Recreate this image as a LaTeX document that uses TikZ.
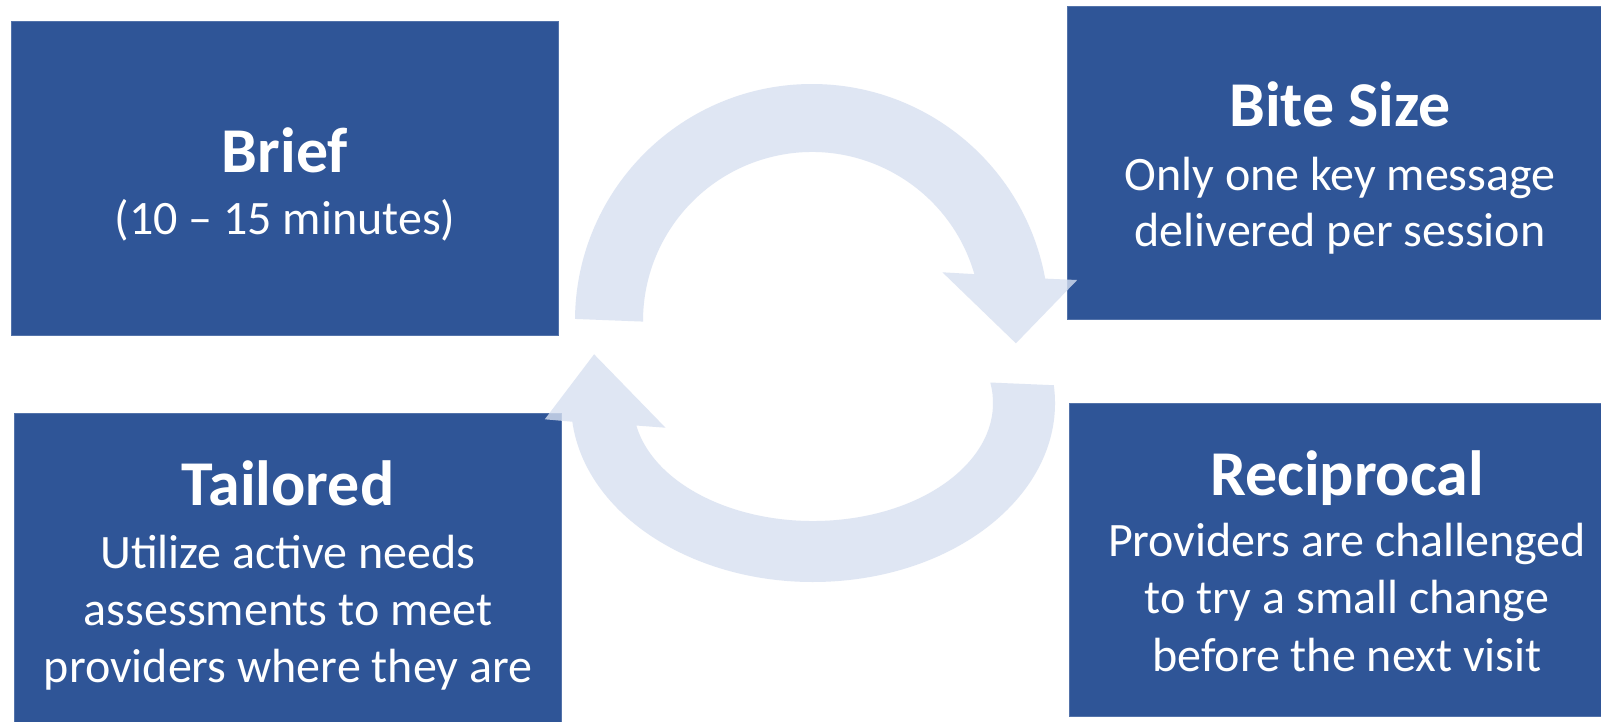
\documentclass[tikz,border=0pt]{standalone}
\usepackage{fontspec}
\setmainfont{Carlito}
\definecolor{boxblue}{HTML}{2F5597}
\definecolor{boxedge}{HTML}{5373AA}
\definecolor{arrowcol}{RGB}{215,224,240}
\tikzset{
  box/.style={fill=boxblue, draw=boxedge, line width=0.6pt, inner sep=0pt},
  arrowfill/.style={fill=arrowcol, fill opacity=0.8},
  ttl/.style={anchor=base, inner sep=0pt, text=white, font=\fontsize{47.9pt}{50pt}\selectfont\bfseries},
  bodytxt/.style={anchor=base, inner sep=0pt, text=white, font=\fontsize{36pt}{42pt}\selectfont}
}
\begin{document}
\begin{tikzpicture}[x=0.75pt, y=0.75pt]
\useasboundingbox (0,0) rectangle (1601,-721);
\clip (0,0) rectangle (1601,-721);
\fill[white] (0,0) rectangle (1601,-721);

% boxes
\node[box, minimum width=409.875pt, minimum height=235.5pt] (brief) at (284.75,-178) {};
\node[box, minimum width=409.5pt, minimum height=235.125pt] (bite) at (1340,-162.75) {};
\node[box, minimum width=410.25pt, minimum height=237.75pt] (tail) at (287.5,-571.5) {};
\node[box, minimum width=417pt, minimum height=234.75pt] (recip) at (1347,-559.5) {};

% circular arrows
\coordinate (c1) at (812,-321);
\coordinate (c2) at (813,-403);
\fill[arrowfill] (575.01,-318.93)
  arc[start angle=179.5, end angle=10.3, radius=237*0.75pt]
  -- (1077.2,-280) -- (1015.9,-343.3) -- (942.4,-272.3)
  -- (974.37,-274.13)
  arc[start angle=16.1, end angle=180.2, radius=169*0.75pt] -- cycle;
\fill[arrowfill] (1053.80,-385.22)
  arc[start angle=5.7, end angle=-174, x radius=242*0.75pt, y radius=179*0.75pt]
  -- (544.8,-419.3) -- (594.1,-354.3) -- (665.5,-427.7)
  -- (636.31,-425.52)
  arc[start angle=-169, end angle=10, x radius=180*0.75pt, y radius=118*0.75pt] -- cycle;

% texts
\node[ttl] (briefT) at (285,-172) {Brief};
\node[bodytxt] (briefL1) at (285,-234) {(10 – 15 minutes)};

\node[ttl] (biteT) at (1340,-126.5) {Bite Size};
\node[bodytxt] (biteL1) at (1340,-190.5) {Only one key message};
\node[bodytxt] (biteL2) at (1340,-246) {delivered per session};

\node[ttl] (tailT) at (288,-505) {Tailored};
\node[bodytxt] (tailL1) at (288,-568) {Utilize active needs};
\node[bodytxt] (tailL2) at (288,-625) {assessments to meet};
\node[bodytxt] (tailL3) at (288,-682) {providers where they are};

\node[ttl] (recipT) at (1347,-495) {Reciprocal};
\node[bodytxt] (recipL1) at (1347,-556.5) {Providers are challenged};
\node[bodytxt] (recipL2) at (1347,-613) {to try a small change};
\node[bodytxt] (recipL3) at (1347,-671) {before the next visit};
\end{tikzpicture}
\end{document}
